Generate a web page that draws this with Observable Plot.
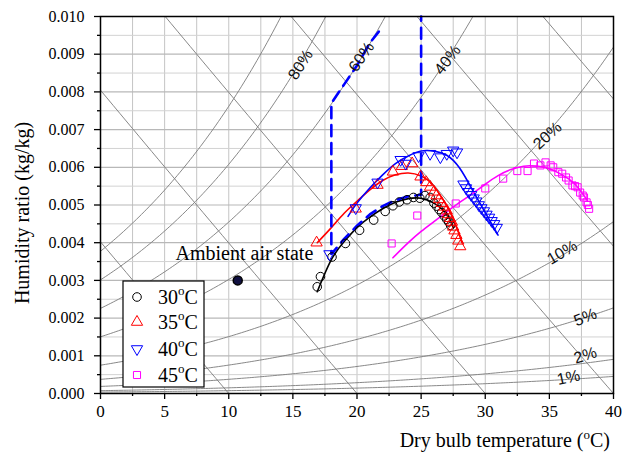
<!DOCTYPE html>
<html><head><meta charset="utf-8">
<script src="https://cdn.jsdelivr.net/npm/d3@7"></script>
<script src="https://cdn.jsdelivr.net/npm/@observablehq/plot@0.6"></script>
<style>body{margin:0;background:#fff} svg{display:block}</style>
</head><body><div id="chart"></div>
<script>
// ---------- data ----------
// measured points
const t30 = [16.9, 17.15, 18.05, 19.1, 20.2, 21.3, 22.2, 22.8, 23.3, 23.9, 24.4, 24.9, 25.3, 25.7, 26.0, 26.2, 26.4, 26.6, 26.8, 27.0, 27.15, 27.3];
const w30 = [0.00283, 0.0031, 0.00362, 0.00398, 0.00433, 0.0046, 0.00483, 0.00498, 0.00508, 0.00514, 0.0052, 0.00518, 0.00525, 0.0052, 0.00505, 0.00497, 0.00488, 0.0048, 0.00471, 0.00462, 0.00455, 0.00446];
const t35 = [16.85, 19.9, 21.6, 22.8, 23.5, 24.3, 24.95, 25.4, 25.7, 26.0, 26.2, 26.4, 26.6, 26.8, 27.0, 27.1, 27.25, 27.4, 27.5, 27.6, 27.75, 27.9, 28.05];
const w35 = [0.0040, 0.0049, 0.00553, 0.00588, 0.00603, 0.0061, 0.00575, 0.0056, 0.00548, 0.00535, 0.00525, 0.00515, 0.00505, 0.00495, 0.00485, 0.00475, 0.00465, 0.00455, 0.00442, 0.00432, 0.0042, 0.00405, 0.0039];
const t40 = [17.85, 19.9, 21.6, 23.4, 23.8, 24.8, 25.7, 26.5, 27.0, 27.5, 27.8, 28.3, 28.5, 28.7, 28.9, 29.1, 29.3, 29.5, 29.7, 29.9, 30.1, 30.3, 30.5, 30.7, 30.9];
const w40 = [0.0037, 0.00492, 0.0056, 0.0062, 0.0061, 0.0063, 0.00636, 0.00627, 0.00636, 0.00645, 0.0064, 0.00555, 0.00545, 0.00535, 0.00527, 0.00518, 0.0051, 0.005, 0.00492, 0.00484, 0.00475, 0.00467, 0.00458, 0.0045, 0.0044];
const t45 = [22.7, 24.7, 27.7, 30.0, 31.4, 32.5, 33.3, 33.8, 34.3, 34.7, 35.1, 35.3, 35.7, 36.0, 36.3, 36.5, 36.8, 37.0, 37.2, 37.4, 37.6, 37.7, 37.9, 38.0, 38.1];
const w45 = [0.00398, 0.00472, 0.00504, 0.00544, 0.0057, 0.0059, 0.0059, 0.0061, 0.00605, 0.00613, 0.00605, 0.006, 0.00587, 0.00583, 0.00573, 0.00565, 0.00552, 0.0055, 0.00547, 0.00533, 0.00525, 0.0052, 0.00507, 0.005, 0.0049];
// fitted curves
const f30t = [16.9, 18, 19, 20, 21, 22, 23, 24, 25, 26, 27, 27.5];
const f30w = [0.0027, 0.00355, 0.00403, 0.0044, 0.00468, 0.0049, 0.00507, 0.00517, 0.00518, 0.00505, 0.00475, 0.0044];
const f35t = [16.9, 18, 19, 20, 21, 22, 23, 24, 25, 26, 27, 27.6, 28.2];
const f35w = [0.0040, 0.0044, 0.00478, 0.0051, 0.0054, 0.00565, 0.0058, 0.00585, 0.00577, 0.0055, 0.00497, 0.00455, 0.0040];
const f40t = [19.3, 20, 21, 22, 23, 24, 25, 26, 27, 28, 29, 30, 31];
const f40w = [0.0047, 0.00505, 0.00545, 0.0058, 0.0061, 0.0063, 0.00643, 0.00643, 0.00632, 0.00598, 0.0054, 0.0048, 0.0042];
const f45t = [22.8, 24, 25, 26, 27, 28, 29, 30, 31, 32, 33, 34, 35, 36, 37, 38];
const f45w = [0.0036, 0.0040, 0.0043, 0.00456, 0.00482, 0.00507, 0.0053, 0.00555, 0.00578, 0.00594, 0.00603, 0.00603, 0.00596, 0.0058, 0.00555, 0.0051];
// blue dashed boundary
const dashT = [21.7, 21, 20, 19, 18, 18, 19, 20, 21, 22, 23, 24, 25, 25];
const dashW = [0.0096, 0.0093, 0.0087, 0.0082, 0.0077, 0.0037, 0.0041, 0.00445, 0.00475, 0.00497, 0.00513, 0.00523, 0.00527, 0.010];
// ambient state
const ambT = [10.7];
const ambW = [0.0030];
const ambLabel = ["Ambient air state"];
const ambLabelT = [5.85];
const ambLabelW = [0.0037];
// psychrometric background
const rhLevels = [1, 2, 5, 10, 20, 40, 60, 80, 100];
const hIntercepts = [10, 20, 30, 40, 50, 60];
const rhLabels = ["80%", "60%", "40%", "20%", "10%", "5%", "2%", "1%"];
const rhLabelT = [15.6, 20.35, 27.06, 34.85, 36.0, 37.8, 37.8, 36.5];
const rhLabelW = [0.00872, 0.00893, 0.00885, 0.00684, 0.00374, 0.00202, 0.00101, 0.00042];
const rhLabelRot = [-57, -55, -52, -42, -30, -22, -17, -12];
const legendNames = ["30", "35", "40", "45"];
const xTickLabels = [0, 5, 10, 15, 20, 25, 30, 35, 40];
const yTickLabels = ["0.000","0.001","0.002","0.003","0.004","0.005","0.006","0.007","0.008","0.009","0.010"];

// ---------- build ----------
const P = 101.325;
const psat = t => 0.61094 * Math.exp(17.625 * t / (t + 243.04));
const tGrid = d3.range(0, 40.001, 0.2);
const rhRows = rhLevels.flatMap(rh => tGrid.map(t => {
  const pv = rh / 100 * psat(t);
  return {rh, t, w: 0.622 * pv / (P - pv)};
}));
const hRows = hIntercepts.flatMap(t0 => d3.range(0, t0 + 0.001, 0.5).map(t => ({
  t0, t, w: 1.006 * (t0 - t) / (2501 + 1.86 * t)
})));
const zip = (a, b) => a.map((t, i) => ({t, w: b[i]}));
const triDown = {draw(ctx, size) {
  const y = -Math.sqrt(size / (Math.sqrt(3) * 3));
  ctx.moveTo(0, -y * 2);
  ctx.lineTo(-Math.sqrt(3) * y, y);
  ctx.lineTo(Math.sqrt(3) * y, y);
  ctx.closePath();
}};
const series = [
  {name: legendNames[0], pts: zip(t30, w30), fit: zip(f30t, f30w), color: "#000000", symbol: d3.symbolCircle, r: 4.3},
  {name: legendNames[1], pts: zip(t35, w35), fit: zip(f35t, f35w), color: "#ff0000", symbol: d3.symbolTriangle, r: 4.2},
  {name: legendNames[2], pts: zip(t40, w40), fit: zip(f40t, f40w), color: "#0000ff", symbol: triDown, r: 4.2},
  {name: legendNames[3], pts: zip(t45, w45), fit: zip(f45t, f45w), color: "#ff00ff", symbol: d3.symbolSquare, r: 4.0}
];
const rhLabelRows = rhLabels.map((l, i) => ({label: l, t: rhLabelT[i], w: rhLabelW[i], rot: rhLabelRot[i]}));
const xMinor = d3.range(2.5, 40, 5);
const yMajor = yTickLabels.map(Number);
const yMinor = d3.range(0, 10).map(i => (i + 0.5) / 1000);

const plot = Plot.plot({
  width: 623, height: 459,
  marginLeft: 100, marginRight: 10, marginTop: 16, marginBottom: 66,
  style: {fontFamily: "'Liberation Serif', 'Times New Roman', serif", fontSize: "16px", background: "white", color: "black"},
  x: {domain: [0, 40]},
  y: {domain: [0, 0.01]},
  marks: [
    Plot.gridX(d3.range(0, 40.01, 2.5), {stroke: "#c4c4c4", strokeOpacity: 1, strokeWidth: 1}),
    Plot.gridY(yMinor, {stroke: "#d2d2d2", strokeOpacity: 1, strokeWidth: 1}),
    Plot.gridY(yMajor, {stroke: "#b8b8b8", strokeOpacity: 1, strokeWidth: 1.2}),
    Plot.line(rhRows, {x: "t", y: "w", z: "rh", stroke: "#7a7a7a", strokeWidth: 0.9, clip: true}),
    Plot.line(hRows, {x: "t", y: "w", z: "t0", stroke: "#7a7a7a", strokeWidth: 0.9, clip: true}),
    ...series.map(s => Plot.line(s.fit, {x: "t", y: "w", stroke: s.color, strokeWidth: 1.6, curve: "natural"})),
    Plot.line(zip(dashT, dashW), {x: "t", y: "w", stroke: "#0000ff", strokeWidth: 2.6, strokeDasharray: "11,7"}),
    ...series.map(s => Plot.dot(s.pts, {x: "t", y: "w", symbol: s.symbol, r: s.r, stroke: s.color, fill: "none", strokeWidth: 1})),
    Plot.dot(zip(ambT, ambW), {x: "t", y: "w", r: 4.5, fill: "#101040", stroke: "black"}),
    Plot.text(ambLabel.map((l, i) => ({l, t: ambLabelT[i], w: ambLabelW[i]})), {x: "t", y: "w", text: "l", textAnchor: "start", fontSize: 20, fill: "black"}),
    Plot.text(rhLabelRows, {x: "t", y: "w", text: "label", rotate: "rot", fontFamily: "'Liberation Sans', Arial, sans-serif", fontSize: 16, fill: "#111"}),
    Plot.frame({stroke: "black", strokeWidth: 1.5}),
    Plot.axisX({ticks: xTickLabels, tickSize: 6, tickPadding: 5, tickFormat: d => String(d), label: null, fontSize: 17, strokeWidth: 1.3}),
    Plot.axisX({ticks: xMinor, tickSize: 3, tickFormat: () => "", label: null, strokeWidth: 1.3}),
    Plot.axisY({ticks: yMajor, tickSize: 6, tickPadding: 10, tickFormat: d3.format(".3f"), label: null, fontSize: 16, strokeWidth: 1.3}),
    Plot.axisY({ticks: yMinor, tickSize: 3, tickFormat: () => "", label: null, strokeWidth: 1.3})
  ]
});

const svg = d3.select(plot);
// axis titles
svg.append("text")
  .attr("transform", "translate(29,213) rotate(-90)")
  .attr("text-anchor", "middle")
  .attr("font-size", 20)
  .attr("fill", "black")
  .text("Humidity ratio (kg/kg)");
const xl = svg.append("text")
  .attr("x", 610).attr("y", 447)
  .attr("text-anchor", "end")
  .attr("font-size", 20)
  .attr("fill", "black");
xl.append("tspan").text("Dry bulb temperature (");
xl.append("tspan").attr("font-size", 13).attr("dy", -8).text("o");
xl.append("tspan").attr("dy", 8).text("C)");

// legend
const lg = svg.append("g");
lg.append("rect").attr("x", 123).attr("y", 281).attr("width", 81).attr("height", 106)
  .attr("fill", "white").attr("stroke", "black").attr("stroke-width", 1.2);
const rowsY = [297, 322, 349, 375];
series.forEach((s, i) => {
  lg.append("path")
    .attr("d", d3.symbol(s.symbol, s.r * s.r * Math.PI)())
    .attr("transform", `translate(137,${rowsY[i]})`)
    .attr("fill", "none").attr("stroke", s.color).attr("stroke-width", 1);
  const tx = lg.append("text").attr("x", 158).attr("y", rowsY[i] + 7)
    .attr("text-anchor", "start").attr("font-size", 20).attr("fill", "black");
  tx.append("tspan").text(s.name);
  tx.append("tspan").attr("font-size", 13).attr("dy", -9).text("o");
  tx.append("tspan").attr("dy", 9).text("C");
});

document.getElementById("chart").appendChild(plot);
</script></body></html>
